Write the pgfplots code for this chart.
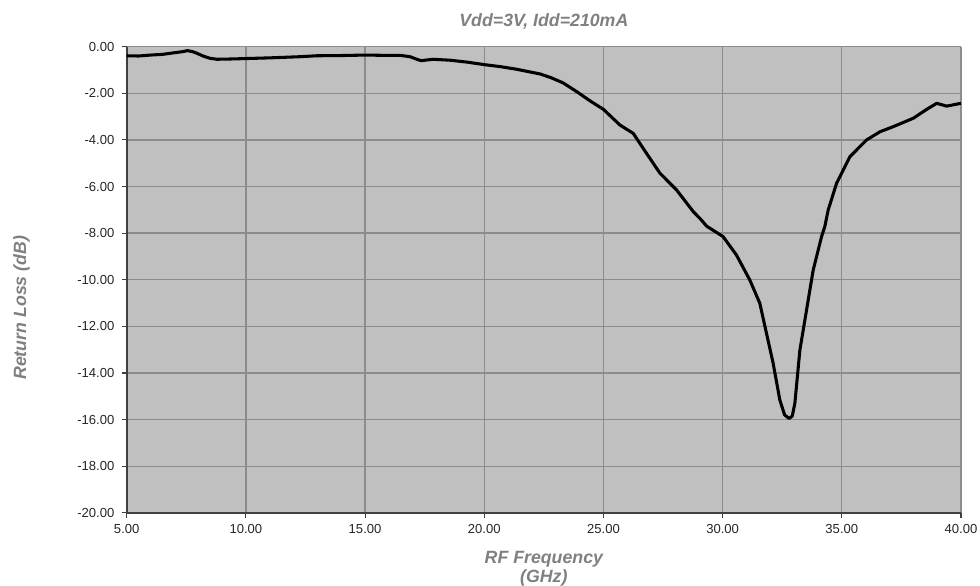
\documentclass[border=0pt]{standalone}
\usepackage{pgfplots}
\pgfplotsset{compat=1.18}
\usepackage{fontspec}
\setmainfont{Liberation Sans}
\definecolor{plotbg}{RGB}{192,192,192}
\definecolor{gridgray}{RGB}{140,140,140}
\definecolor{labelgray}{RGB}{128,128,128}
\definecolor{axisdark}{RGB}{64,64,64}

\begin{document}
\begin{tikzpicture}
\begin{axis}[
    scale only axis,
    width=625.5pt, height=349.5pt,
    xmin=5, xmax=40, ymin=-20, ymax=0,
    xtick={5,10,...,40},
    ytick={-20,-18,...,0},
    axis background/.style={fill=plotbg},
    grid=major,
    major grid style={gridgray, line width=1pt},
    axis x line*=bottom, axis y line*=left,
    axis line style={axisdark, line width=1.5pt, -},
    tick align=outside,
    major tick length=3.75pt,
    tick style={axisdark, line width=0.8pt},
    ticklabel style={font=\fontsize{9.8}{11}\selectfont, text=black!85},
    /pgf/number format/assume math mode=true,
    /pgf/number format/.cd, fixed, fixed zerofill, precision=2,
    /pgfplots/.cd,
    xticklabel style={yshift=-1pt},
    yticklabel style={xshift=-2pt},
]
\addplot[black, line width=2.3pt, line join=round] coordinates {
(5.0,-0.39) (5.5,-0.40) (6.0,-0.36) (6.5,-0.33) (7.0,-0.26) (7.37,-0.21)
(7.54,-0.17) (7.75,-0.21) (7.94,-0.28) (8.2,-0.40) (8.5,-0.50) (8.78,-0.54)
(9.3,-0.53) (10.0,-0.51) (11.0,-0.48) (12.27,-0.43) (12.97,-0.39) (14.0,-0.38)
(15.0,-0.36) (15.7,-0.37) (16.46,-0.37) (16.88,-0.43) (17.2,-0.55) (17.35,-0.60)
(17.85,-0.54) (18.56,-0.58) (19.26,-0.66) (20.0,-0.77) (20.7,-0.86) (21.36,-0.97)
(22.34,-1.17) (22.8,-1.33) (23.3,-1.55) (23.88,-1.93) (24.43,-2.32) (25.0,-2.69)
(25.69,-3.36) (26.25,-3.72) (26.81,-4.58) (27.37,-5.43) (28.07,-6.15) (28.77,-7.08)
(29.05,-7.37) (29.33,-7.70) (30.02,-8.15) (30.58,-8.94) (31.14,-10.01) (31.56,-11.01)
(31.84,-12.30) (32.12,-13.59) (32.4,-15.16) (32.6,-15.80) (32.79,-15.95) (32.92,-15.85)
(33.03,-15.30) (33.24,-13.02) (33.52,-11.30) (33.8,-9.58) (34.15,-8.15) (34.29,-7.70)
(34.43,-7.00) (34.78,-5.86) (35.34,-4.72) (36.04,-4.00) (36.6,-3.65) (37.16,-3.43)
(38.0,-3.07) (38.56,-2.69) (38.98,-2.43) (39.4,-2.55) (40.0,-2.43)
};
\end{axis}
\node[anchor=base, font=\fontsize{13.3}{15}\selectfont\bfseries\itshape, text=labelgray]
  at ([yshift=15pt]current axis.north) {Vdd=3V, Idd=210mA};
\node[anchor=base, font=\fontsize{13.3}{15}\selectfont\bfseries\itshape, text=labelgray]
  at ([yshift=-38pt]current axis.south) {RF Frequency};
\node[anchor=base, font=\fontsize{13.3}{15}\selectfont\bfseries\itshape, text=labelgray]
  at ([yshift=-52.5pt]current axis.south) {(GHz)};
\node[anchor=base, rotate=90, font=\fontsize{13.3}{15}\selectfont\bfseries\itshape, text=labelgray]
  at ([xshift=-75.5pt, yshift=-21pt]current axis.west) {Return Loss (dB)};
\pgfresetboundingbox
\path ([xshift=-95pt, yshift=-54.5pt]current axis.south west)
  rectangle ([xshift=14.25pt, yshift=35pt]current axis.north east);
\end{tikzpicture}
\end{document}
